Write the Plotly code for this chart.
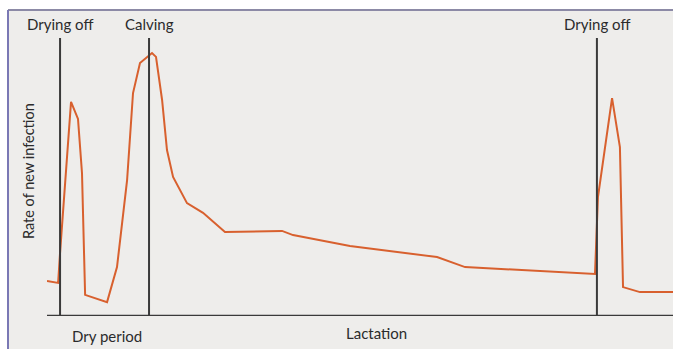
import plotly.graph_objects as go

# Days relative to drying off (0); calving at 60, next drying off at ~362
days = [-8.8, -1.3, 0.0, 3.4, 7.4, 12.1, 14.8, 16.9, 31.7, 38.4, 45.2, 49.2, 53.9,
        62.0, 64.7, 68.8, 72.1, 76.2, 85.6, 96.4, 111.2, 149.7, 157.1, 195.5,
        254.2, 273.1, 360.7, 362.7, 372.2, 377.5, 379.6, 391.0, 413.3]
rate = [12.6, 11.9, 22.7, 47.8, 77.0, 70.9, 51.4, 7.6, 5.0, 17.6, 48.9, 80.2, 91.0,
        94.6, 93.2, 77.7, 59.7, 50.0, 40.6, 37.1, 30.2, 30.6, 29.1, 25.2,
        21.2, 17.6, 15.1, 42.8, 78.4, 60.8, 10.4, 8.6, 8.6]

event_days = [0, 60, 362]
event_labels = ["Drying off", "Calving", "Drying off"]
period_labels = ["Dry period", "Lactation"]
period_pos = [31.5, 213.5]

W, H = 673, 349
L, R, T, B = 47, 0, 38, 33
XMIN, XMAX = -8.8, 413.3
YMIN, YMAX = 0, 100

def px2paperx(px):
    return (px - L) / (W - L - R)

def py2papery(py):
    return (H - B - py) / (H - T - B)

fig = go.Figure()
fig.add_trace(go.Scatter(x=days, y=rate, mode="lines",
                         line=dict(color="#d8602e", width=2),
                         hoverinfo="skip", showlegend=False))

shapes = []
# scanned background panel
shapes.append(dict(type="rect", xref="paper", yref="paper", layer="below",
                   x0=px2paperx(8), x1=px2paperx(W + 2), y0=py2papery(H + 2), y1=py2papery(10),
                   fillcolor="#eeedeb", line=dict(width=0)))
# borders
shapes.append(dict(type="line", xref="paper", yref="paper",
                   x0=px2paperx(8), x1=px2paperx(W), y0=py2papery(10), y1=py2papery(10),
                   line=dict(color="#8c8aa6", width=2)))
shapes.append(dict(type="line", xref="paper", yref="paper",
                   x0=px2paperx(8), x1=px2paperx(8), y0=py2papery(10), y1=py2papery(H),
                   line=dict(color="#7a78b4", width=2)))
# event lines
for d in event_days:
    shapes.append(dict(type="line", xref="x", yref="y", x0=d, x1=d, y0=0, y1=100,
                       line=dict(color="#3a3a3a", width=2)))
# x axis line
shapes.append(dict(type="line", xref="paper", yref="y", x0=0, x1=1, y0=0, y1=0,
                   line=dict(color="#3a3a3a", width=2.5)))
fig.update_layout(shapes=shapes)

FONT = dict(size=15, color="#2b2b2b")
annotations = []
for d, lab in zip(event_days, event_labels):
    annotations.append(dict(x=d, xref="x", y=py2papery(24), yref="paper", text=lab,
                            showarrow=False, font=FONT,
                            xanchor="center", yanchor="middle"))
annotations.append(dict(x=period_pos[0], xref="x", y=py2papery(336), yref="paper",
                        text=period_labels[0], showarrow=False, font=FONT,
                        xanchor="center", yanchor="middle"))
annotations.append(dict(x=period_pos[1], xref="x", y=py2papery(333), yref="paper",
                        text=period_labels[1], showarrow=False, font=FONT,
                        xanchor="center", yanchor="middle"))
annotations.append(dict(x=px2paperx(28), xref="paper", y=py2papery(171), yref="paper",
                        text="Rate of new infection", textangle=-90, showarrow=False,
                        xanchor="center", yanchor="middle",
                        font=dict(size=14.5, color="#2b2b2b")))
fig.update_layout(annotations=annotations)

fig.update_layout(
    width=W, height=H,
    margin=dict(l=L, r=R, t=T, b=B),
    paper_bgcolor="white",
    plot_bgcolor="rgba(0,0,0,0)",
    font=dict(family="Lato, Open Sans, sans-serif"),
    xaxis=dict(range=[XMIN, XMAX], showgrid=False, zeroline=False,
               showticklabels=False, ticks="", showline=False, fixedrange=True),
    yaxis=dict(range=[YMIN, YMAX], showgrid=False, zeroline=False,
               showticklabels=False, ticks="", showline=False, fixedrange=True),
)

fig.write_html("out.html", config={"displayModeBar": False},
               post_script="document.body.style.margin='0px';")
